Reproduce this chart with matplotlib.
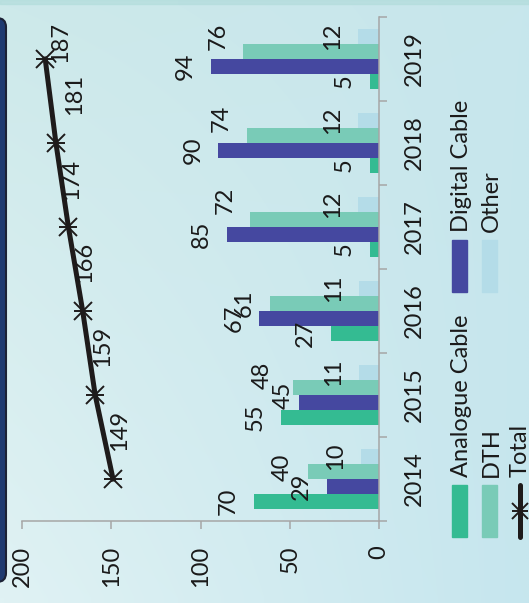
import numpy as np
import matplotlib
matplotlib.use("Agg")
import matplotlib.pyplot as plt
import matplotlib.transforms as mtransforms
from matplotlib.patches import Rectangle, FancyBboxPatch
from matplotlib.lines import Line2D

years = ['2014', '2015', '2016', '2017', '2018', '2019']
series = ['Analogue Cable', 'Digital Cable', 'DTH', 'Other']
analogue = [70, 55, 27, 5, 5, 5]
digital = [29, 45, 67, 85, 90, 94]
dth = [40, 48, 61, 72, 74, 76]
other = [10, 11, 11, 12, 12, 12]
total = [149, 159, 166, 174, 181, 187]
total_name = 'Total'
value_ticks = [0, 50, 100, 150, 200]

colors = ['#34bb92', '#4548a0', '#79cbb7', '#b4dce8']
line_color = '#1e1b1b'
grey = '#a6a6a6'
W, H = 529, 603

plt.rcParams['font.family'] = ['Lato', 'DejaVu Sans']
plt.rcParams['font.size'] = 17
plt.rcParams['text.color'] = '#1a1a1a'
plt.rcParams['xtick.color'] = '#1a1a1a'
plt.rcParams['ytick.color'] = '#1a1a1a'

fig = plt.figure(figsize=(W / 100, H / 100), dpi=100)
# image pixel coords (y down) -> display
pix = mtransforms.Affine2D().scale(1, -1).translate(0, H)

# soft cyan background
bg = fig.add_axes([0, 0, 1, 1], zorder=-10)
corners = {
    'tl': np.array([0xcd, 0xe9, 0xea]), 'tr': np.array([0xc7, 0xe6, 0xec]),
    'bl': np.array([0xe0, 0xf2, 0xf4]), 'br': np.array([0xc6, 0xe6, 0xee]),
}
u = np.linspace(0, 1, 60)[None, :, None]
v = np.linspace(0, 1, 60)[:, None, None]
grad = ((1 - u) * (1 - v) * corners['tl'] + u * (1 - v) * corners['tr']
        + (1 - u) * v * corners['bl'] + u * v * corners['br']) / 255
bg.imshow(grad, aspect='auto', extent=[0, 1, 0, 1], interpolation='bilinear')
bg.axis('off')

ax = fig.add_axes([22 / W, 1 - 521 / H, (379 - 22) / W, (521 - 17) / H])
ax.set_facecolor('none')

y = np.arange(len(years))
w = 0.179
offsets = [-1.5 * w, -0.5 * w, 0.5 * w, 1.5 * w]
# (series, year) -> extra pixel shift, where Excel moved crowded labels
nudges = {(1, 1): (10, 7), (2, 1): (-6, 12), (2, 0): (0, 4),
          (2, 3): (0, 19), (2, 4): (0, 17), (2, 5): (0, 15)}
for si, (vals, off, c) in enumerate(zip([analogue, digital, dth, other],
                                        offsets, colors)):
    ax.barh(y + off, vals, height=w, color=c, zorder=2)
    for yi, v_ in zip(y, vals):
        dx, dy = nudges.get((si, yi), (0, 0))
        ax.annotate(str(v_), xy=(v_, yi + off), xytext=(-15 + dx, dy),
                    textcoords='offset pixels', rotation=90,
                    ha='right', va='center', zorder=4)

ax.plot(total, y, color=line_color, lw=3.6, marker='x', ms=13, mew=1.4,
        zorder=5)
ax.plot(total, y, ls='none', color=line_color, marker='_', ms=13, mew=1.4,
        zorder=5)
# label shifts in pixels (Excel nudged the top two)
total_label_shift = [(6, 28), (7, 28), (2, 28), (3, 27), (19, 28), (15, -4)]
for yi, t, (dx, dy) in zip(y, total, total_label_shift):
    ax.annotate(str(t), xy=(t, yi), xytext=(dx, dy), textcoords='offset pixels',
                rotation=90, ha='center', va='bottom', zorder=6)

ax.set_xlim(200, 0)
ax.set_ylim(-0.5, len(years) - 0.5)
ax.set_xticks(value_ticks)
ax.tick_params(axis='x', direction='out', length=5.8, width=1.1, color=grey,
               pad=12, labelrotation=90)
ax.yaxis.tick_right()
ax.set_yticks(y)
ax.set_yticklabels(years, rotation=90, va='center')
ax.set_yticks(np.arange(-0.5, len(years), 1), minor=True)
ax.tick_params(axis='y', which='major', length=0, pad=18)
ax.tick_params(axis='y', which='minor', direction='out', length=5.8,
               width=1.1, color=grey)
for s in ['top', 'left']:
    ax.spines[s].set_visible(False)
for s in ['bottom', 'right']:
    ax.spines[s].set_color(grey)
    ax.spines[s].set_linewidth(1.1)

# legend, drawn rotated like the rest of the chart
legend_slots = [(452, 485), (452, 240), (482, 485), (482, 240)]
for name, c, (lx, ly) in zip(series, colors, legend_slots):
    fig.add_artist(Rectangle((lx, ly), 15, 52, transform=pix, color=c))
    fig.text(lx + 9.5, ly - 8, name, transform=pix, rotation=90,
             ha='center', va='bottom')
fig.add_artist(Line2D([520, 520], [485, 537], transform=pix, color=line_color,
                      lw=3.6, solid_capstyle='round'))
fig.add_artist(Line2D([520], [511], transform=pix, color=line_color,
                      marker='x', ms=11, mew=1.4))
fig.add_artist(Line2D([520], [511], transform=pix, color=line_color,
                      marker='_', ms=11, mew=1.4))
fig.text(520, 477, total_name, transform=pix, rotation=90, ha='center',
         va='bottom')

# edge of neighbouring panel and top strip
fig.add_artist(FancyBboxPatch((-30, 18), 36, 564, transform=pix,
                              boxstyle='round,pad=0,rounding_size=9',
                              fc='#1f3a70', ec='#1c2236', lw=1.5))
fig.add_artist(Rectangle((0, 0), W, 4, transform=pix, color='#b3dddc',
                         alpha=0.7))

fig.savefig('out.png', dpi=100)
